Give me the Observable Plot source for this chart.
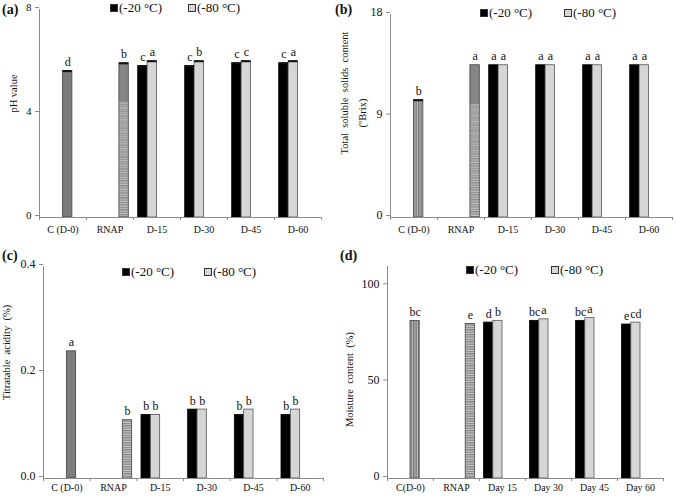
<!DOCTYPE html>
<html>
<head>
<meta charset="utf-8">
<script src="https://cdn.jsdelivr.net/npm/d3@7"></script>
<script src="https://cdn.jsdelivr.net/npm/@observablehq/plot@0.6"></script>
<style>
  body { margin: 0; background: #fff; }
  #fig { position: relative; width: 676px; height: 497px; overflow: hidden;
         font-family: "Liberation Serif", serif; color: #111; }
  .panel { position: absolute; }
  .tag { position: absolute; font-weight: bold; font-size: 14px; line-height: 1; }
  .key { position: absolute; font-size: 13px; line-height: 1; white-space: nowrap;
         display: flex; align-items: center; }
  .sw { display: inline-block; width: 6px; height: 6px; border: 1px solid #333; margin-right: 1px; }
</style>
</head>
<body>
<!-- fill patterns shared by all four panels -->
<svg width="0" height="0" style="position:absolute">
  <defs>
    <pattern id="hstripe" width="4" height="2.4" patternUnits="userSpaceOnUse">
      <rect width="4" height="2.4" fill="#858585"></rect>
      <rect y="1.3" width="4" height="1" fill="#d2d2d2"></rect>
    </pattern>
    <!-- RNAP bar in (a) and (b): plain grey top, striped below -->
    <pattern id="hsplit" x="0" y="0" width="1" height="1" patternUnits="objectBoundingBox"
             patternContentUnits="userSpaceOnUse">
      <rect width="40" height="1000" fill="url(#hstripe)"></rect>
      <rect width="40" height="39" fill="#858585"></rect>
    </pattern>
    <pattern id="vstripe" width="2.5" height="4" patternUnits="userSpaceOnUse">
      <rect width="2.5" height="4" fill="#767676"></rect>
      <rect x="1.4" width="1" height="4" fill="#c4c4c4"></rect>
    </pattern>
  </defs>
</svg>
<div id="fig"></div>
<script>
const categories = ["C (D-0)", "RNAP", "D-15", "D-30", "D-45", "D-60"];
const categoriesDay = ["C(D-0)", "RNAP", "Day 15", "Day 30", "Day 45", "Day 60"];
const series = ["-20", "-80", "C", "RNAP"]; // slot order inside each category

// values: control, RNAP, then the stored samples at -20 and -80 °C (days 15..60)
const phCtrl = 5.63, phRnap = 5.93;
const phM20 = [5.82, 5.82, 5.93, 5.93];
const phM80 = [6.01, 6.01, 6.01, 6.01];
const phLetters = ["d", "b", "c", "a", "c", "b", "c", "c", "c", "a"];

const tssCtrl = 10.4, tssRnap = 13.5;
const tssM20 = [13.5, 13.5, 13.5, 13.5];
const tssM80 = [13.5, 13.5, 13.5, 13.5];
const tssLetters = ["b", "a", "a", "a", "a", "a", "a", "a", "a", "a"];

const taCtrl = 0.24, taRnap = 0.11;
const taM20 = [0.12, 0.13, 0.12, 0.12];
const taM80 = [0.12, 0.13, 0.13, 0.13];
const taLetters = ["a", "b", "b", "b", "b", "b", "b", "b", "b", "b"];

const mcCtrl = 81.7, mcRnap = 80.2;
const mcM20 = [80.9, 81.8, 81.8, 79.9];
const mcM80 = [81.8, 82.6, 83.2, 80.9];
const mcLetters = ["bc", "e", "d", "b", "bc", "a", "bc", "a", "e", "cd"];

function toRows(ctrl, rnap, m20, m80, letters) {
  const rows = [
    { k: 0, s: "C", value: ctrl, letter: letters[0] },
    { k: 1, s: "RNAP", value: rnap, letter: letters[1] },
  ];
  m20.forEach((v, i) => {
    rows.push({ k: i + 2, s: "-20", value: v, letter: letters[2 + 2 * i] });
    rows.push({ k: i + 2, s: "-80", value: m80[i], letter: letters[3 + 2 * i] });
  });
  return rows;
}

// excel style clustered layout: each category is one x unit, four slots of 0.2
const slotW = 0.2, outer = 0.1;
const left = (d) => d.k + outer + slotW * series.indexOf(d.s);

const font = "Liberation Serif, serif";
const axisGrey = "#8c8c8c";

function panel(o) {
  const look = {
    "-20": { fill: "#000", stroke: "#000" },
    "-80": { fill: "#d6d6d6", stroke: "#555" },
    C: { fill: o.ctrlFill, stroke: "#444" },
    RNAP: { fill: o.rnapFill, stroke: "#444" },
  };
  return Plot.plot({
    width: o.width,
    height: o.height,
    marginLeft: o.ml,
    marginRight: o.mr,
    marginTop: o.mt,
    marginBottom: o.mb,
    style: { fontFamily: font, color: "#111", background: "transparent" },
    x: { domain: [0, o.cats.length], axis: null },
    y: { domain: o.domain, axis: null },
    marks: [
      ...series.map((s) =>
        Plot.rectY(o.rows, {
          filter: (d) => d.s === s,
          x1: left,
          x2: (d) => left(d) + slotW,
          y: "value",
          fill: look[s].fill,
          stroke: look[s].stroke,
          strokeWidth: 0.8,
        })
      ),
      o.caps
        ? Plot.ruleY(o.rows, {
            filter: o.caps,
            x1: left,
            x2: (d) => left(d) + slotW,
            y: "value",
            stroke: "#111",
            strokeWidth: 2,
          })
        : null,
      Plot.ruleY([0], { stroke: axisGrey }),
      Plot.ruleX([0], { stroke: axisGrey }),
      Plot.axisY({
        ticks: o.ticks,
        tickFormat: o.format,
        tickSize: 4,
        tickPadding: 4,
        stroke: axisGrey,
        fill: "#111",
        fontSize: o.tickFont,
        dy: -2,
        label: null,
      }),
      Plot.axisX({
        ticks: d3.range(o.cats.length + 1),
        tickSize: 3,
        tickFormat: () => "",
        stroke: axisGrey,
        label: null,
      }),
      Plot.axisX({
        ticks: o.cats.map((c, k) => k + 0.5),
        tickFormat: (v) => o.cats[Math.floor(v)],
        tickSize: 0,
        tickPadding: o.catPad,
        fontSize: 10,
        fill: "#111",
        label: null,
      }),
      ...o.yLabel.map((l) =>
        Plot.text([l.text], {
          frameAnchor: "left",
          textAnchor: "middle",
          rotate: -90,
          dx: -l.dx,
          dy: l.dy,
          fontSize: 10.5,
          fill: "#111",
        })
      ),
      Plot.text(o.rows, {
        x: (d) => left(d) + slotW / 2,
        y: "value",
        text: "letter",
        lineAnchor: "bottom",
        dy: -5,
        fontSize: 12,
        fill: "#111",
      }),
    ],
  });
}

const panels = [
  {
    left: 0, top: 0, width: 338, height: 250, ml: 39, mr: 17, mt: 9, mb: 33,
    cats: categories, domain: [0, 8], ticks: [0, 4, 8], format: "d", tickFont: 11,
    rows: toRows(phCtrl, phRnap, phM20, phM80, phLetters),
    ctrlFill: "#7c7c7c", rnapFill: "url(#hsplit)",
    yLabel: [{ text: "pH value", dx: 26, dy: -20 }], catPad: 8,
    caps: () => true, tag: "(a)", tagX: 2, tagY: 3,
    key: [[110, 1], [188, 1]],
  },
  {
    left: 338, top: 0, width: 338, height: 250, ml: 52, mr: 4, mt: 14, mb: 33,
    cats: categories, domain: [0, 18], ticks: [0, 9, 18], format: "d", tickFont: 12,
    rows: toRows(tssCtrl, tssRnap, tssM20, tssM80, tssLetters),
    ctrlFill: "url(#vstripe)", rnapFill: "url(#hsplit)",
    yLabel: [
      { text: "Total  soluble  solids  content", dx: 46, dy: -23 },
      { text: "(ºBrix)", dx: 28, dy: -3 },
    ],
    catPad: 8,
    caps: (d) => d.s === "C", tag: "(b)", tagX: -3, tagY: 3,
    key: [[142, 6], [226, 6]],
  },
  {
    left: 0, top: 250, width: 338, height: 247, ml: 43, mr: 15, mt: 16, mb: 19,
    cats: categories, domain: [0, 0.4], ticks: [0, 0.2, 0.4], format: ".1f", tickFont: 12,
    rows: toRows(taCtrl, taRnap, taM20, taM80, taLetters),
    ctrlFill: "#7c7c7c", rnapFill: "url(#hstripe)",
    yLabel: [{ text: "Titratable  acidity  (%)", dx: 37, dy: -20 }], catPad: 5,
    caps: null, tag: "(c)", tagX: 2, tagY: -1,
    key: [[122, 15], [204, 15]],
  },
  {
    left: 338, top: 250, width: 338, height: 247, ml: 49, mr: 13, mt: 16, mb: 19,
    cats: categoriesDay, domain: [0, 110], ticks: [0, 50, 100], format: "d", tickFont: 12,
    rows: toRows(mcCtrl, mcRnap, mcM20, mcM80, mcLetters),
    ctrlFill: "url(#vstripe)", rnapFill: "url(#hstripe)",
    yLabel: [{ text: "Moisture  content  (%)", dx: 38, dy: 7 }], catPad: 5,
    caps: null, tag: "(d)", tagX: 2, tagY: -1,
    key: [[128, 13], [213, 13]],
  },
];

const fig = document.getElementById("fig");
panels.forEach((p) => {
  const box = document.createElement("div");
  box.className = "panel";
  box.style.left = p.left + "px";
  box.style.top = p.top + "px";
  box.appendChild(panel(p));
  fig.appendChild(box);

  const tag = document.createElement("div");
  tag.className = "tag";
  tag.textContent = p.tag;
  tag.style.left = p.left + p.tagX + "px";
  tag.style.top = p.top + p.tagY + "px";
  fig.appendChild(tag);

  [["#000", "(-20 °C)"], ["#d6d6d6", "(-80 °C)"]].forEach(([c, label], i) => {
    const k = document.createElement("div");
    k.className = "key";
    k.style.left = p.left + p.key[i][0] + "px";
    k.style.top = p.top + p.key[i][1] + "px";
    k.innerHTML = `<span class="sw" style="background:${c}"></span>${label}`;
    fig.appendChild(k);
  });
});
</script>
</body>
</html>
